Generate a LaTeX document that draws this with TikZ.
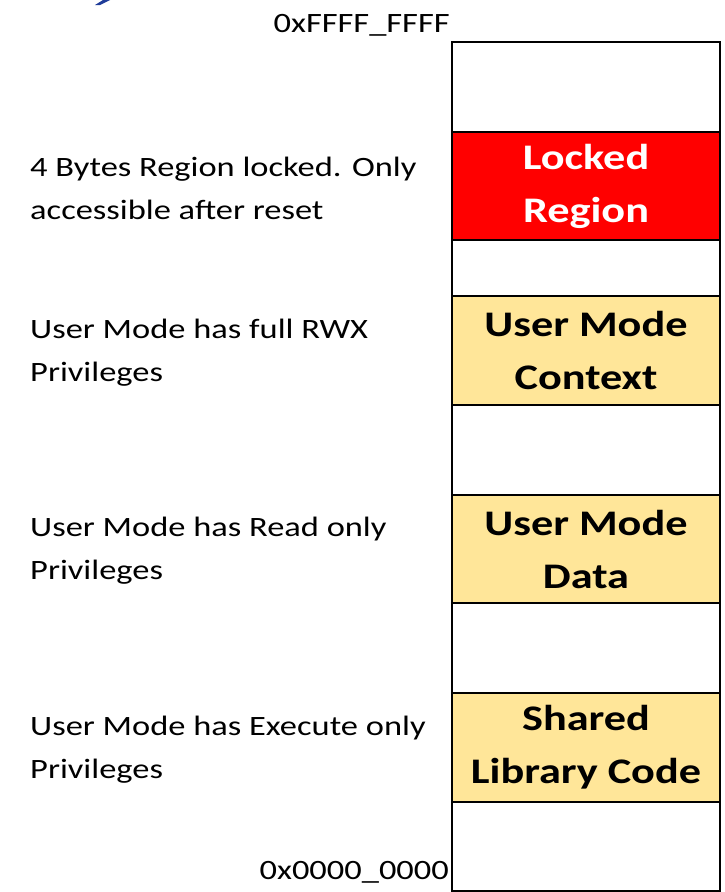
\documentclass[tikz,border=0pt]{standalone}
\usepackage{fontspec}
\setmainfont{Carlito}[FakeStretch=1.23]
\usepackage{xcolor}
\usepackage{tikz}
\usetikzlibrary{shapes,positioning}

\definecolor{lockred}{HTML}{FF0000}
\definecolor{useryellow}{HTML}{FFE699}
\definecolor{titleblue}{HTML}{1F3C99}

\begin{document}
\begin{tikzpicture}[x=1pt, y=-1pt, node distance=0pt]
    % Define styles
    \tikzstyle{cell} = [rectangle, minimum width=268pt, inner sep=0pt, outer sep=0pt, draw=black, line width=1.6pt, fill=white]
    \tikzstyle{lockcell} = [cell, fill=lockred, text=white, align=center, font=\fontsize{36}{53}\selectfont\bfseries]
    \tikzstyle{usercell} = [cell, fill=useryellow, text=black, align=center, font=\fontsize{36}{53}\selectfont\bfseries]
    \tikzstyle{note} = [anchor=west, align=left, inner sep=0pt, font=\fontsize{28}{43}\selectfont]
    \tikzstyle{addr} = [anchor=base east, inner sep=0pt, font=\fontsize{28}{34}\selectfont]

    \useasboundingbox (0,0) rectangle (724,892);

    % cut-off title
    \fill[titleblue] (95,5) -- (100,5) -- (110,0) -- (103,0) -- cycle;

    % Memory map
    \node[cell, minimum height=90pt, anchor=north west] (free_top) at (452,42) {};
    \node[lockcell, minimum height=108pt, below=of free_top] (locked) {Locked\\Region};
    \node[cell, minimum height=56pt, below=of locked] (free_a) {};
    \node[usercell, minimum height=109pt, below=of free_a] (context) {User Mode\\Context};
    \node[cell, minimum height=90pt, below=of context] (free_b) {};
    \node[usercell, minimum height=108pt, below=of free_b] (data) {User Mode\\Data};
    \node[cell, minimum height=90pt, below=of data] (free_c) {};
    \node[usercell, minimum height=109pt, below=of free_c] (shared) {Shared\\Library Code};
    \node[cell, minimum height=89pt, below=of shared] (free_bottom) {};

    % Addresses
    \node[addr] (addr_high) at ([xshift=-2pt, yshift=10pt]free_top.north west) {0xFFFF\_FFFF};
    \node[addr] (addr_low) at ([xshift=-3pt, yshift=12pt]free_bottom.south west) {0x0000\_0000};

    % Notes
    \node[note] (locked_note) at ([xshift=-422pt, yshift=-2pt]locked.west) {4 Bytes Region locked. Only\\accessible after reset};
    \node[note] (context_note) at ([xshift=-422pt, yshift=-2pt]context.west) {User Mode has full RWX\\Privileges};
    \node[note] (data_note) at ([xshift=-422pt, yshift=-2pt]data.west) {User Mode has Read only\\Privileges};
    \node[note] (shared_note) at ([xshift=-422pt, yshift=-2pt]shared.west) {User Mode has Execute only\\Privileges};
\end{tikzpicture}
\end{document}
